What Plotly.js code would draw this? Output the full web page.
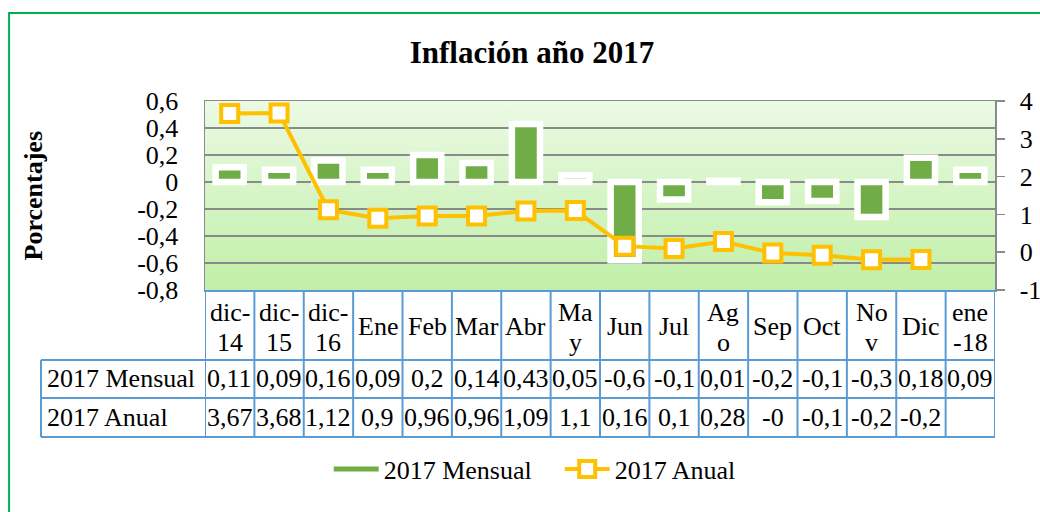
<!DOCTYPE html>
<html>
<head>
<meta charset="utf-8">
<script src="https://cdn.plot.ly/plotly-3.0.1.min.js"></script>
<style>html,body{margin:0;padding:0;background:#fff;}#chart{width:1040px;height:512px;}</style>
</head>
<body>
<div id="chart"></div>
<script>
const categories = ['dic-14','dic-15','dic-16','Ene','Feb','Mar','Abr','May','Jun','Jul','Ago','Sep','Oct','Nov','Dic','ene-18'];
const headerLabels = ['dic-<br>14','dic-<br>15','dic-<br>16','Ene','Feb','Mar','Abr','Ma<br>y','Jun','Jul','Ag<br>o','Sep','Oct','No<br>v','Dic','ene<br>-18'];
const mensual = [0.11,0.09,0.16,0.09,0.2,0.14,0.43,0.05,-0.58,-0.13,0.01,-0.15,-0.14,-0.26,0.18,0.09];
const anual = [3.67,3.68,1.12,0.9,0.96,0.96,1.09,1.1,0.16,0.1,0.28,-0.02,-0.08,-0.2,-0.19,null];
const mensualText = ['0,11','0,09','0,16','0,09','0,2','0,14','0,43','0,05','-0,6','-0,1','0,01','-0,2','-0,1','-0,3','0,18','0,09'];
const anualText = ['3,67','3,68','1,12','0,9','0,96','0,96','1,09','1,1','0,16','0,1','0,28','-0','-0,1','-0,2','-0,2',''];
const leftTicks = [0.6,0.4,0.2,0,-0.2,-0.4,-0.6,-0.8];
const leftTickText = ['0,6','0,4','0,2','0','-0,2','-0,4','-0,6','-0,8'];
const rightTicks = [4,3,2,1,0,-1];
const rightTickText = ['4','3','2','1','0','-1'];
const seriesNames = ['2017 Mensual','2017 Anual'];

const FONT = 'Liberation Serif, Times New Roman, serif';
const GREEN = '#70ad47', ORANGE = '#ffc000', TBL = '#5b9bd5', GRID = '#8a8a8a';
const TS = 26;

// table geometry in paper coords
const rowTop = -0.005, row1 = -0.370, row2 = -0.571, rowBot = -0.778;
const labelLeft = -0.2076;

const traces = [
  {type:'bar', x:categories, y:mensual, name:seriesNames[0], showlegend:false, width:0.57,
   marker:{color:GREEN, line:{color:'#ffffff', width:6.5}}, hoverinfo:'x+y'},
  {type:'scatter', mode:'lines', x:[null], y:[null], name:seriesNames[0],
   line:{color:GREEN, width:5}, hoverinfo:'skip'},
  {type:'scatter', mode:'lines+markers', x:categories, y:anual, name:seriesNames[1], yaxis:'y2',
   line:{color:ORANGE, width:4}, connectgaps:false,
   marker:{symbol:'square', size:17, color:'#ffffff', line:{color:ORANGE, width:4}}}
];

const shapes = [];
shapes.push({type:'rect', xref:'paper', yref:'paper', x0:-0.248, x1:1.07, y0:-1.25, y1:1.466,
  line:{color:'#00b050', width:2}, fillcolor:'rgba(0,0,0,0)', layer:'below'});
[[rowTop,0],[row1,1],[row2,1],[rowBot,1]].forEach(([yy,full])=>{
  shapes.push({type:'line', xref:'paper', yref:'paper', x0: full?labelLeft:0, x1:1, y0:yy, y1:yy,
    line:{color:TBL, width:2}});
});
for (let i=0;i<=categories.length;i++){
  shapes.push({type:'line', xref:'x', yref:'paper', x0:i-0.5, x1:i-0.5, y0:rowTop, y1:rowBot,
    line:{color:TBL, width:2}});
}
shapes.push({type:'line', xref:'paper', yref:'paper', x0:labelLeft, x1:labelLeft, y0:row1, y1:rowBot,
  line:{color:TBL, width:2}});

const annotations = [];
const tf = {family:FONT, size:TS, color:'#000'};
categories.forEach((c,i)=>{
  const parts = headerLabels[i].split('<br>');
  if (parts.length === 1) {
    annotations.push({xref:'x', yref:'paper', x:i, y:-0.195, text:parts[0], showarrow:false,
      xanchor:'center', yanchor:'middle', font:tf});
  } else {
    annotations.push({xref:'x', yref:'paper', x:i, y:-0.117, text:parts[0], showarrow:false,
      xanchor:'center', yanchor:'middle', font:tf});
    annotations.push({xref:'x', yref:'paper', x:i, y:-0.276, text:parts[1], showarrow:false,
      xanchor:'center', yanchor:'middle', font:tf});
  }
  annotations.push({xref:'x', yref:'paper', x:i, y:(row1+row2)/2, text:mensualText[i], showarrow:false,
    xanchor:'center', yanchor:'middle', font:tf});
  annotations.push({xref:'x', yref:'paper', x:i, y:(row2+rowBot)/2, text:anualText[i], showarrow:false,
    xanchor:'center', yanchor:'middle', font:tf});
});
annotations.push({xref:'paper', yref:'paper', x:-0.202, y:(row1+row2)/2, text:seriesNames[0], showarrow:false,
  xanchor:'left', yanchor:'middle', font:tf});
annotations.push({xref:'paper', yref:'paper', x:-0.202, y:(row2+rowBot)/2, text:seriesNames[1], showarrow:false,
  xanchor:'left', yanchor:'middle', font:tf});
annotations.push({xref:'paper', yref:'paper', x:-0.2165, y:0.5, text:'<b>Porcentajes</b>', textangle:-90,
  showarrow:false, xanchor:'center', yanchor:'middle', font:{family:FONT, size:TS, color:'#000'}});

const grad = "<svg xmlns='http://www.w3.org/2000/svg' width='10' height='10' viewBox='0 0 10 10' preserveAspectRatio='none'><defs><linearGradient id='g' x1='0' y1='0' x2='0' y2='1'><stop offset='0' stop-color='#ebfae4'/><stop offset='1' stop-color='#c0efa8'/></linearGradient></defs><rect width='10' height='10' fill='url(#g)'/></svg>";

const layout = {
  width:1040, height:512,
  margin:{l:205, r:45, t:101, b:222},
  paper_bgcolor:'#ffffff', plot_bgcolor:'rgba(0,0,0,0)',
  font:{family:FONT, size:TS, color:'#000'},
  separators:',.',
  title:{text:'<b>Inflación año 2017</b>', font:{family:FONT, size:31, color:'#000'},
    xref:'container', x:0.5115, xanchor:'center', yref:'container', y:0.898, yanchor:'middle'},
  xaxis:{type:'category', range:[-0.5,15.5], showticklabels:false, ticks:'', showgrid:false,
    showline:true, linecolor:GRID, linewidth:1.5, mirror:true, zeroline:false, fixedrange:true},
  yaxis:{range:[-0.8,0.6], tickvals:leftTicks, ticktext:leftTickText, showgrid:true, gridcolor:GRID, gridwidth:1.5,
    zeroline:false, showline:true, linecolor:GRID, linewidth:1.5, ticks:'', ticklabelstandoff:20,
    tickfont:{family:FONT, size:TS, color:'#000'}},
  yaxis2:{overlaying:'y', side:'right', range:[-1,4], tickvals:rightTicks, ticktext:rightTickText,
    showgrid:false, zeroline:false, showline:true, linecolor:GRID, linewidth:1.5,
    ticks:'outside', ticklen:8, tickcolor:GRID, tickwidth:1.5, ticklabelstandoff:10,
    tickfont:{family:FONT, size:TS, color:'#000'}},
  barmode:'overlay',
  showlegend:true,
  legend:{orientation:'h', x:0.449, xanchor:'center', y:-0.947, yanchor:'middle',
    itemwidth:45, entrywidth:171, entrywidthmode:'pixels',
    font:{family:FONT, size:TS, color:'#000'}, bgcolor:'rgba(0,0,0,0)', traceorder:'normal'},
  images:[{source:'data:image/svg+xml;charset=utf-8,'+encodeURIComponent(grad), xref:'paper', yref:'paper',
    x:0, y:1, sizex:1, sizey:1, sizing:'stretch', xanchor:'left', yanchor:'top', layer:'below'}],
  shapes:shapes,
  annotations:annotations
};

Plotly.newPlot('chart', traces, layout, {displayModeBar:false, staticPlot:true});
</script>
</body>
</html>
